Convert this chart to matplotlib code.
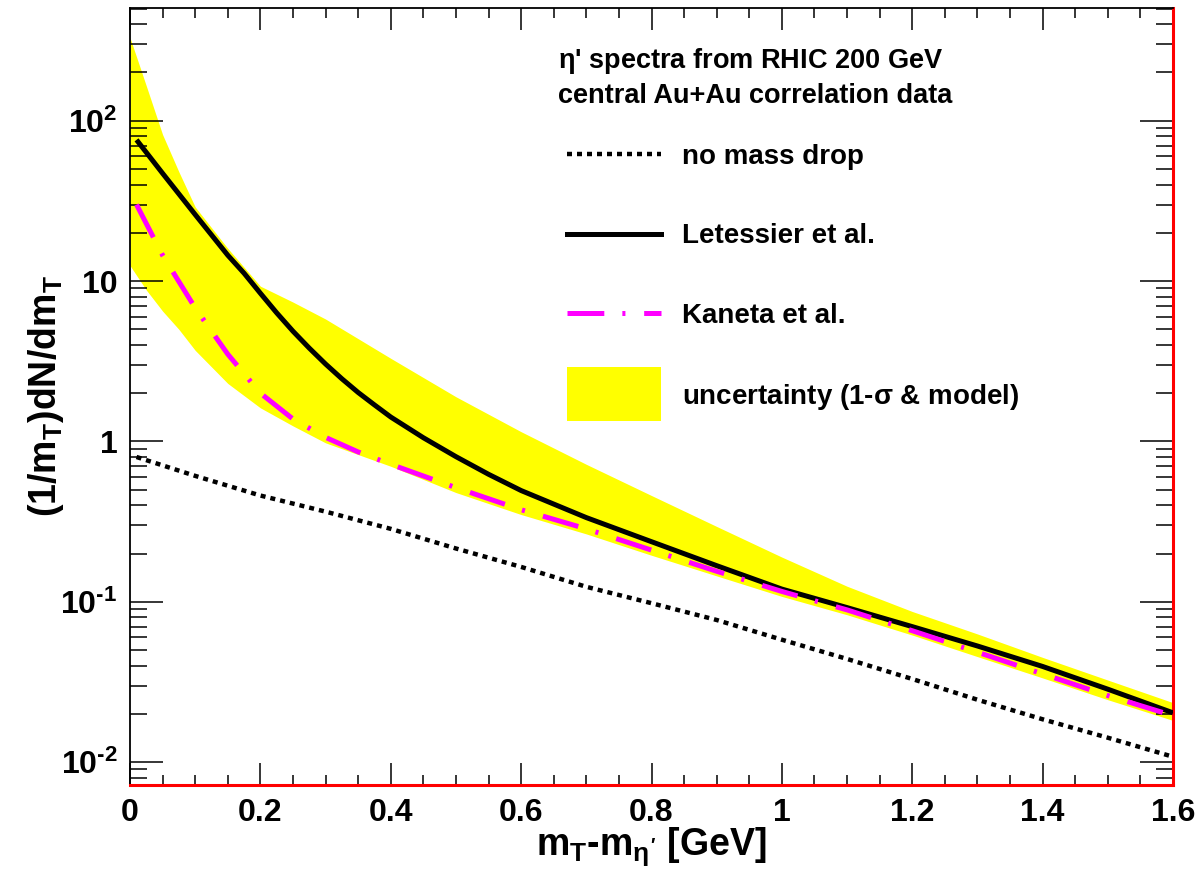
import matplotlib
matplotlib.use("Agg")
import matplotlib.pyplot as plt
from matplotlib.ticker import FixedLocator, LogLocator, MultipleLocator, FuncFormatter, NullFormatter
from matplotlib.patches import Patch, Rectangle
from matplotlib.lines import Line2D
from matplotlib.legend_handler import HandlerPatch

plt.rcParams['font.family'] = ['Liberation Sans', 'DejaVu Sans']
plt.rcParams['font.weight'] = 'bold'
plt.rcParams['mathtext.fontset'] = 'custom'
plt.rcParams['mathtext.rm'] = 'Liberation Sans:bold'
plt.rcParams['mathtext.it'] = 'Liberation Sans:bold'
plt.rcParams['mathtext.bf'] = 'Liberation Sans:bold'
plt.rcParams['lines.scale_dashes'] = False

# Letessier et al.
let_x = [0.01, 0.05, 0.1, 0.15, 0.175, 0.2, 0.225, 0.25, 0.275, 0.3, 0.325, 0.35, 0.375,
         0.4, 0.45, 0.5, 0.55, 0.6, 0.7, 0.8, 0.9, 1.0, 1.1, 1.2, 1.3, 1.4, 1.5, 1.6]
let_y = [76, 47, 26, 14.5, 11.2, 8.4, 6.34, 4.87, 3.82, 3.04, 2.46, 2.02, 1.69,
         1.42, 1.055, 0.804, 0.624, 0.494, 0.335, 0.237, 0.168, 0.12, 0.092, 0.070,
         0.053, 0.0395, 0.0285, 0.0203]

# Kaneta et al.
kan_x = [0.01, 0.05, 0.1, 0.15, 0.2, 0.25, 0.3, 0.35, 0.4, 0.5, 0.6, 0.7, 0.8,
         0.9, 1.0, 1.1, 1.2, 1.3, 1.4, 1.5, 1.6]
kan_y = [30, 14.5, 6.8, 3.5, 2.0, 1.38, 1.06, 0.86, 0.72, 0.515, 0.375, 0.285, 0.21,
         0.155, 0.116, 0.089, 0.066, 0.0485, 0.0355, 0.026, 0.0195]

# no mass drop
nmd_x = [0.01, 0.1, 0.2, 0.3, 0.4, 0.5, 0.6, 0.7, 0.8, 0.9, 1.0, 1.1, 1.2, 1.3,
         1.4, 1.5, 1.6]
nmd_y = [0.80, 0.61, 0.46, 0.365, 0.285, 0.215, 0.165, 0.124, 0.098, 0.077, 0.058,
         0.044, 0.033, 0.0245, 0.0185, 0.0142, 0.0108]

# uncertainty band (1-sigma & model)
band_x = [0, 0.025, 0.05, 0.075, 0.1, 0.15, 0.2, 0.25, 0.3, 0.4, 0.5, 0.6, 0.7, 0.8,
          0.9, 1.0, 1.1, 1.2, 1.3, 1.4, 1.5, 1.6]
band_hi = [330, 165, 82, 48, 29, 16, 9.3, 7.4, 5.8, 3.3, 1.9, 1.15, 0.72, 0.46,
           0.295, 0.19, 0.125, 0.087, 0.063, 0.045, 0.0325, 0.0235]
band_lo = [12.5, 8.8, 6.5, 5.0, 3.7, 2.3, 1.62, 1.25, 0.98, 0.70, 0.48, 0.35, 0.265,
           0.195, 0.145, 0.108, 0.083, 0.062, 0.0455, 0.0335, 0.0245, 0.0182]

yticks = [0.01, 0.1, 1, 10, 100]
ytick_labels = ['$10^{\u20112}$', '$10^{\u20111}$', '1', '10', '$10^{2}$']


def tall_box(legend, orig_handle, xdescent, ydescent, width, height, fontsize):
    # taller yellow box, centred on the text like the other handles
    h = 39
    return Rectangle((-xdescent, height / 2 - h / 2), width, h)


fig = plt.figure(figsize=(12.02, 8.72), dpi=100)
ax = fig.add_axes([130/1202, 1 - 785/872, 1043/1202, 777/872])

ax.fill_between(band_x, band_lo, band_hi, color='#ffff00', linewidth=0, zorder=1)
ax.plot(nmd_x, nmd_y, color='black', lw=3.2, dashes=(3.6, 3.6), zorder=3)
ax.plot(let_x, let_y, color='black', lw=3.6, solid_capstyle='butt', zorder=3)
ax.plot(kan_x, kan_y, color='#ff00ff', lw=3.6, dashes=(26.5, 13, 2.2, 13.5),
        dash_capstyle='butt', zorder=4)

ax.set_yscale('log')
ax.set_xlim(0, 1.6)
ax.set_ylim(0.0072, 505)

ax.xaxis.set_major_locator(MultipleLocator(0.2))
ax.xaxis.set_minor_locator(MultipleLocator(0.05))
ax.xaxis.set_major_formatter(FuncFormatter(lambda v, p: '0' if abs(v) < 1e-9 else ('%g' % v)))
ax.yaxis.set_major_locator(FixedLocator(yticks))
ax.yaxis.set_major_formatter(FuncFormatter(lambda v, p: ytick_labels[p] if p < len(ytick_labels) else ''))
ax.yaxis.set_minor_locator(LogLocator(base=10, subs=range(2, 10), numticks=20))
ax.yaxis.set_minor_formatter(NullFormatter())

ax.tick_params(axis='both', which='both', direction='in', top=True, right=True,
               width=1.1, color='black', labelsize=23)
ax.tick_params(axis='x', which='major', length=16, pad=9)
ax.tick_params(axis='x', which='minor', length=7.5)
ax.tick_params(axis='y', which='major', length=24, pad=9)
ax.tick_params(axis='y', which='minor', length=12)

for s in ['left', 'top']:
    ax.spines[s].set_linewidth(1.3)
    ax.spines[s].set_color('black')
for s in ['bottom', 'right']:
    ax.spines[s].set_linewidth(2.2)
    ax.spines[s].set_color('red')

ax.set_xlabel(r"m$_{T}$-m$_{\eta'}$ [GeV]", fontsize=27, fontweight='bold', labelpad=-1.5)
ax.set_ylabel(r"(1/m$_{T}$)dN/dm$_{T}$", fontsize=27, fontweight='bold', labelpad=-4)

# header text
ax.text(0.4104, 0.923, r"$\eta$' spectra from RHIC 200 GeV", transform=ax.transAxes,
        fontsize=19.5, fontweight='bold', ha='left', va='baseline')
ax.text(0.4104, 0.878, "central Au+Au correlation data", transform=ax.transAxes,
        fontsize=19.5, fontweight='bold', ha='left', va='baseline')

handles = [
    Line2D([], [], color='black', lw=3.2, dashes=(3.6, 3.6)),
    Line2D([], [], color='black', lw=3.6),
    Line2D([], [], color='#ff00ff', lw=3.6, dashes=(26.5, 13, 2.2, 13.5)),
    Patch(facecolor='#ffff00', edgecolor='none'),
]
labels = ['no mass drop', 'Letessier et al.', 'Kaneta et al.',
          r'uncertainty (1-$\sigma$ & model)']
ax.legend(handles, labels, loc='upper left', bbox_to_anchor=(0.419, 0.825),
          frameon=False, fontsize=20, handlelength=3.4, handleheight=0.7,
          handletextpad=0.75, labelspacing=1.92, borderpad=0, borderaxespad=0,
          handler_map={Patch: HandlerPatch(patch_func=tall_box)})

fig.savefig('out.png', dpi=100)
